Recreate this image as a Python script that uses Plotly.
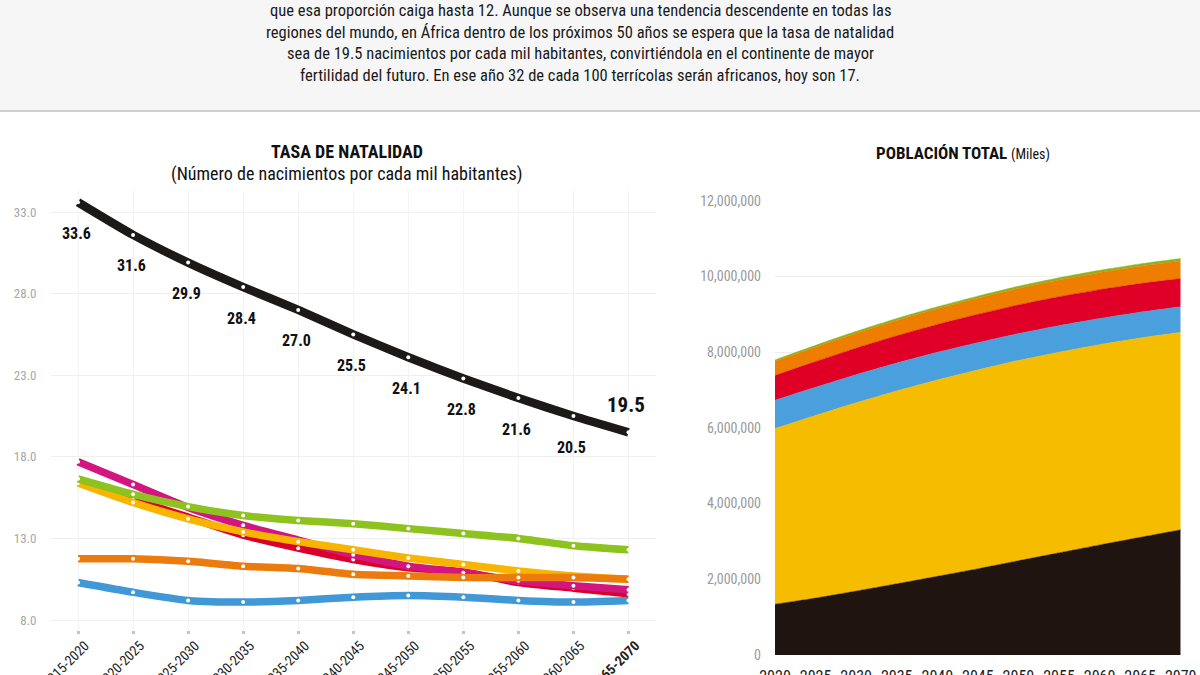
import plotly.graph_objects as go

# ---------------- data ----------------
periods = ["2015-2020", "2020-2025", "2025-2030", "2030-2035", "2035-2040", "2040-2045",
           "2045-2050", "2050-2055", "2055-2060", "2060-2065", "2065-2070"]
rate_africa = [33.6, 31.6, 29.9, 28.4, 27.0, 25.5, 24.1, 22.8, 21.6, 20.5, 19.5]
rate_red = [16.6, 15.4, 14.3, 13.2, 12.4, 11.7, 11.2, 10.95, 10.3, 9.95, 9.6]
rate_magenta = [17.7, 16.3, 14.9, 13.8, 12.9, 12.0, 11.3, 10.9, 10.4, 10.1, 9.85]
rate_yellow = [16.4, 15.2, 14.2, 13.4, 12.8, 12.3, 11.8, 11.4, 11.0, 10.7, 10.5]
rate_green = [16.65, 15.7, 14.95, 14.4, 14.1, 13.9, 13.6, 13.3, 13.0, 12.55, 12.3]
rate_orange = [11.75, 11.75, 11.6, 11.3, 11.15, 10.8, 10.7, 10.6, 10.6, 10.6, 10.5]
rate_blue = [10.3, 9.7, 9.2, 9.1, 9.2, 9.4, 9.5, 9.4, 9.2, 9.1, 9.2]
rate_ticks = [8, 13, 18, 23, 28, 33]

years = [2020, 2025, 2030, 2035, 2040, 2045, 2050, 2055, 2060, 2065, 2070]
pop_africa = [1340598, 1503586, 1688414, 1880000, 2077567, 2278000, 2489275, 2698000, 2905000, 3108000, 3307000]
pop_asia = [4641055, 4822629, 4974053, 5096000, 5188831, 5253000, 5290263, 5302000, 5293000, 5266000, 5220000]
pop_europe = [747636, 746000, 741097, 736000, 729000, 720000, 710486, 700000, 690000, 680000, 670000]
pop_latam = [653962, 679000, 701000, 720000, 735000, 748000, 759000, 763000, 762000, 756000, 745000]
pop_northam = [368870, 383000, 396000, 406000, 415000, 424000, 433000, 441000, 449000, 457000, 465000]
pop_oceania = [42678, 45000, 48000, 50700, 53000, 55400, 57800, 60000, 62000, 63700, 65300]
pop_ticks = [0, 2000000, 4000000, 6000000, 8000000, 10000000, 12000000]

header_lines = [
    "que esa proporción caiga hasta 12. Aunque se observa una tendencia descendente en todas las",
    "regiones del mundo, en África dentro de los próximos 50 años se espera que la tasa de natalidad",
    "sea de 19.5 nacimientos por cada mil habitantes, convirtiéndola en el continente de mayor",
    "fertilidad del futuro. En ese año 32 de cada 100 terrícolas serán africanos, hoy son 17.",
]

# ---------------- style ----------------
W, H = 1200, 675
FONT = "Liberation Sans Narrow, Roboto Condensed, Roboto, sans-serif"
def px(x):
    return x / W
def py(y):
    return 1 - y / H

fig = go.Figure()

line_series = [
    ("Rojo", rate_red, "#d9002b", 7.5),
    ("Magenta", rate_magenta, "#d3167f", 7.5),
    ("Amarillo", rate_yellow, "#f7b500", 7.5),
    ("Verde", rate_green, "#8dc21f", 7.5),
    ("Naranja", rate_orange, "#ec7b0d", 7.5),
    ("Azul", rate_blue, "#4098d7", 7.5),
    ("África", rate_africa, "#1c1a19", 8.5),
]
for name, vals, col, w in line_series:
    fig.add_trace(go.Scatter(
        x=periods, y=vals, name=name, mode="lines+markers",
        line=dict(color=col, width=w, shape="spline", smoothing=0.6),
        marker=dict(color="white", size=4),
        xaxis="x", yaxis="y", showlegend=False, hoverinfo="x+y",
    ))

# labels on the African line
for i, (p, v) in enumerate(zip(periods, rate_africa)):
    last = i == len(periods) - 1
    fig.add_annotation(
        x=p, y=v, xref="x", yref="y", text=f"<b>{v:.1f}</b>", showarrow=False,
        xanchor="center", yanchor="middle",
        yshift=27 if last else -31, xshift=-2,
        font=dict(family=FONT, size=21 if last else 16, color="#111"),
    )

area_series = [
    ("África", pop_africa, "#1f1410"),
    ("Asia", pop_asia, "#f6bd00"),
    ("Europa", pop_europe, "#4aa0dc"),
    ("América Latina", pop_latam, "#e00027"),
    ("Norteamérica", pop_northam, "#ef7d00"),
    ("Oceanía", pop_oceania, "#8ab51c"),
]
for name, vals, col in area_series:
    fig.add_trace(go.Scatter(
        x=years, y=vals, name=name, mode="lines", stackgroup="pop",
        line=dict(color=col, width=0.5, shape="spline", smoothing=0.5),
        fillcolor=col, xaxis="x2", yaxis="y2", showlegend=False,
    ))

ticktext = periods[:-1] + [f"<b>{periods[-1]}</b>"]

fig.update_layout(
    width=W, height=H, margin=dict(l=0, r=0, t=0, b=0),
    paper_bgcolor="white", plot_bgcolor="rgba(0,0,0,0)",
    font=dict(family=FONT, color="#222"),
    showlegend=False,
    xaxis=dict(
        domain=[px(50.5), px(656)], type="category", range=[-0.5, 10.5],
        tickmode="array", tickvals=periods, ticktext=ticktext, tickangle=-45,
        tickfont=dict(family=FONT, size=14, color="#222"),
        ticks="outside", ticklen=3, tickwidth=3, tickcolor="#c4c4c4",
        ticklabelshift=7, ticklabelstandoff=-2,
        showgrid=True, gridcolor="#f3f3f3", gridwidth=1,
        showline=False, zeroline=False, anchor="y", automargin=False,
    ),
    yaxis=dict(
        domain=[py(630), py(190)], range=[7.387, 34.35],
        tickmode="array", tickvals=rate_ticks, tickformat=".1f",
        tickfont=dict(family=FONT, size=13, color="#a8a8a8"),
        showgrid=True, gridcolor="#efefef", zeroline=False, showline=False,
        ticklabelstandoff=13, anchor="x", automargin=False,
    ),
    xaxis2=dict(
        domain=[px(775), px(1180.7)], range=[2020, 2070],
        tickmode="array", tickvals=years,
        tickfont=dict(family=FONT, size=16, color="#222"),
        showgrid=False, zeroline=False, showline=False, ticks="",
        ticklabelstandoff=10, anchor="y2", automargin=False,
    ),
    yaxis2=dict(
        domain=[py(655), py(200.7)], range=[0, 12000000],
        tickmode="array", tickvals=pop_ticks, tickformat=",",
        tickfont=dict(family=FONT, size=14, color="#9a9a9a"),
        showgrid=True, gridcolor="#eeeeee", zeroline=False, showline=False,
        ticklabelstandoff=13, anchor="x2", automargin=False,
    ),
)

# header background
fig.add_shape(type="rect", xref="paper", yref="paper", x0=0, x1=1, y0=py(111), y1=1,
              fillcolor="#f6f6f6", line_width=0, layer="below")
fig.add_shape(type="line", xref="paper", yref="paper", x0=0, x1=1, y0=py(111), y1=py(111),
              line=dict(color="#cfcfcf", width=2))

for i, t in enumerate(header_lines):
    fig.add_annotation(x=px(580), y=py(10 + 22 * i), xref="paper", yref="paper",
                       text=t, showarrow=False, xanchor="center", yanchor="middle",
                       font=dict(family=FONT, size=16.5, color="#1a1a1a"))

fig.add_annotation(x=px(347), y=py(152), xref="paper", yref="paper",
                   text="<b>TASA DE NATALIDAD</b>", showarrow=False,
                   xanchor="center", yanchor="middle",
                   font=dict(family=FONT, size=18, color="#111"))
fig.add_annotation(x=px(346), y=py(174), xref="paper", yref="paper",
                   text="(Número de nacimientos por cada mil habitantes)", showarrow=False,
                   xanchor="center", yanchor="middle",
                   font=dict(family=FONT, size=18, color="#111"))
fig.add_annotation(x=px(963), y=py(153), xref="paper", yref="paper",
                   text="<b>POBLACIÓN TOTAL</b> <span style='font-size:14px'>(Miles)</span>",
                   showarrow=False, xanchor="center", yanchor="middle",
                   font=dict(family=FONT, size=17, color="#111"))

fig.write_html("out.html", config={"displayModeBar": False},
               post_script="document.body.style.margin='0';")
